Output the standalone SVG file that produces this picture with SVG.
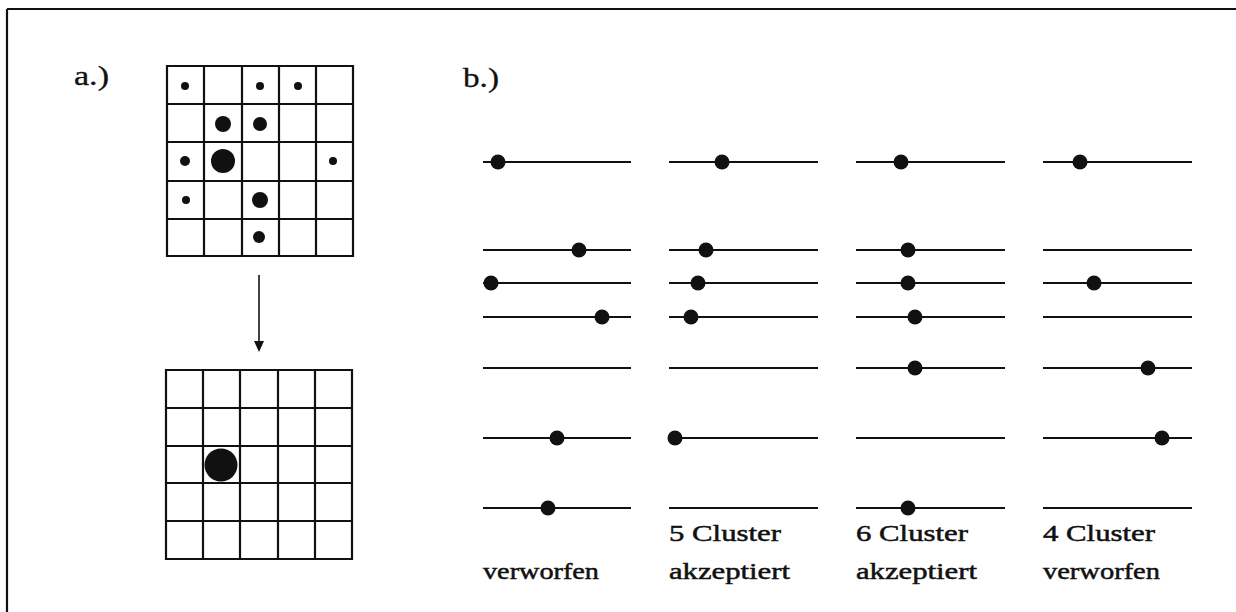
<svg xmlns="http://www.w3.org/2000/svg" width="1236" height="612" viewBox="0 0 1236 612">
<style>
.ln{stroke:#111;stroke-width:2.2;fill:none}
.gr{stroke:#111;stroke-width:2.2;fill:none}
.dt{fill:#111}
.tx{font-family:"Liberation Serif",serif;font-size:24px;fill:#111;stroke:#111;stroke-width:0.5}
.lb{font-family:"Liberation Serif",serif;font-size:27px;fill:#111;stroke:#111;stroke-width:0.3}
</style>
<rect width="1236" height="612" fill="#fff"/>
<g id="frame">
<line x1="7" y1="9" x2="1236" y2="9" class="ln"/>
<line x1="7" y1="9" x2="7" y2="612" class="ln"/>
</g>
<text class="lb" x="74" y="85" textLength="35" lengthAdjust="spacingAndGlyphs">a.)</text>
<text class="lb" x="463" y="87" textLength="36" lengthAdjust="spacingAndGlyphs">b.)</text>
<g id="gridTop">
<path class="gr" d="M167,66H353V256H167Z M204,66V256 M242,66V256 M279,66V256 M316,66V256 M167,104H353 M167,142H353 M167,181H353 M167,219H353"/>
<circle class="dt" cx="185" cy="86" r="4"/>
<circle class="dt" cx="260" cy="86" r="4"/>
<circle class="dt" cx="298" cy="86" r="4"/>
<circle class="dt" cx="223" cy="124" r="8"/>
<circle class="dt" cx="260" cy="124" r="7"/>
<circle class="dt" cx="185" cy="161" r="5"/>
<circle class="dt" cx="223" cy="161" r="12"/>
<circle class="dt" cx="333" cy="161" r="4"/>
<circle class="dt" cx="186" cy="200" r="4"/>
<circle class="dt" cx="260" cy="200" r="8"/>
<circle class="dt" cx="259" cy="237" r="6"/>
</g>
<g id="connectors">
<line x1="259" y1="275" x2="259" y2="343" stroke="#111" stroke-width="1.6"/>
<path d="M254,341 L264,341 L259,352 Z" fill="#111"/>
</g>
<g id="gridBottom">
<path class="gr" d="M166,370H352V559H166Z M203,370V559 M240,370V559 M278,370V559 M315,370V559 M166,408H352 M166,446H352 M166,483H352 M166,521H352"/>
<circle class="dt" cx="221" cy="465" r="16.5"/>
</g>
<g id="col1">
<path class="ln" d="M483,162H631 M483,250H631 M483,283H631 M483,317H631 M483,368H631 M483,438H631 M483,508H631"/>
<circle class="dt" cx="498" cy="162" r="7.5"/>
<circle class="dt" cx="579" cy="250" r="7.5"/>
<circle class="dt" cx="491" cy="283" r="7.5"/>
<circle class="dt" cx="602" cy="317" r="7.5"/>
<circle class="dt" cx="557" cy="438" r="7.5"/>
<circle class="dt" cx="548" cy="508" r="7.5"/>
<text class="tx" x="483" y="579" textLength="116" lengthAdjust="spacingAndGlyphs">verworfen</text>
</g>
<g id="col2">
<path class="ln" d="M669,162H818 M669,250H818 M669,283H818 M669,317H818 M669,368H818 M669,438H818 M669,508H818"/>
<circle class="dt" cx="722" cy="162" r="7.5"/>
<circle class="dt" cx="706" cy="250" r="7.5"/>
<circle class="dt" cx="698" cy="283" r="7.5"/>
<circle class="dt" cx="691" cy="317" r="7.5"/>
<circle class="dt" cx="675" cy="438" r="7.5"/>
<text class="tx" x="669" y="541" textLength="112" lengthAdjust="spacingAndGlyphs">5 Cluster</text>
<text class="tx" x="669" y="579" textLength="121" lengthAdjust="spacingAndGlyphs">akzeptiert</text>
</g>
<g id="col3">
<path class="ln" d="M856,162H1005 M856,250H1005 M856,283H1005 M856,317H1005 M856,368H1005 M856,438H1005 M856,508H1005"/>
<circle class="dt" cx="901" cy="162" r="7.5"/>
<circle class="dt" cx="908" cy="250" r="7.5"/>
<circle class="dt" cx="908" cy="283" r="7.5"/>
<circle class="dt" cx="915" cy="317" r="7.5"/>
<circle class="dt" cx="915" cy="368" r="7.5"/>
<circle class="dt" cx="908" cy="508" r="7.5"/>
<text class="tx" x="856" y="541" textLength="112" lengthAdjust="spacingAndGlyphs">6 Cluster</text>
<text class="tx" x="856" y="579" textLength="121" lengthAdjust="spacingAndGlyphs">akzeptiert</text>
</g>
<g id="col4">
<path class="ln" d="M1043,162H1192 M1043,250H1192 M1043,283H1192 M1043,317H1192 M1043,368H1192 M1043,438H1192 M1043,508H1192"/>
<circle class="dt" cx="1080" cy="162" r="7.5"/>
<circle class="dt" cx="1094" cy="283" r="7.5"/>
<circle class="dt" cx="1148" cy="368" r="7.5"/>
<circle class="dt" cx="1162" cy="438" r="7.5"/>
<text class="tx" x="1043" y="541" textLength="112" lengthAdjust="spacingAndGlyphs">4 Cluster</text>
<text class="tx" x="1043" y="579" textLength="117" lengthAdjust="spacingAndGlyphs">verworfen</text>
</g>
</svg>
